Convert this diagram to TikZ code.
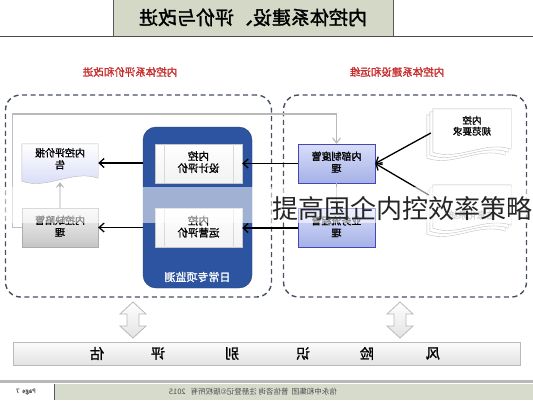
\documentclass[tikz,border=0pt]{standalone}
\usepackage{graphicx}
\usepackage{fontspec}
\setmainfont{Noto Sans CJK SC}[AutoFakeBold=1.6]
\usetikzlibrary{arrows.meta,calc}
\definecolor{titlebg}{RGB}{212,216,199}
\definecolor{footbg}{RGB}{214,219,204}
\definecolor{monblue}{RGB}{45,84,160}
\definecolor{boxblueT}{RGB}{216,222,250}
\definecolor{boxblueB}{RGB}{165,177,230}
\definecolor{docblue}{RGB}{212,216,246}
\definecolor{redlab}{RGB}{200,45,45}
\definecolor{dashc}{RGB}{70,80,98}
\newcommand\mirr[1]{\reflectbox{#1}}
\newcommand\mtwo[2]{\reflectbox{\begin{tabular}{@{}c@{}}#1\\[-1pt]#2\end{tabular}}}
\newcommand\docshape[3]{%
  \path[#2] ($(#1.north west)+(#3)$) -- ($(#1.north east)+(#3)$)
    -- ($(#1.south east)+(0,-4)+(#3)$)
    .. controls ($(#1.south east)+(-26,-13)+(#3)$) and ($(#1.south west)+(26,8)+(#3)$) ..
    ($(#1.south west)+(0,-1)+(#3)$) -- cycle;}
\begin{document}
\begin{tikzpicture}[x=1pt,y=-1pt,
  every node/.style={inner sep=0pt, align=center},
  titlebox/.style={draw=gray!70!black, fill=titlebg, minimum width=280, minimum height=37,
    font=\fontsize{19}{21}\selectfont\bfseries},
  redlabel/.style={text=redlab, font=\fontsize{10.5}{12}\selectfont\bfseries},
  region/.style={draw=dashc, dash pattern=on 5pt off 3.5pt, line width=1.4, rounded corners=15},
  monbox/.style={fill=monblue, draw=monblue!75!black, rounded corners=13,
    minimum width=109, minimum height=161},
  innerbox/.style={draw=gray!45, top color=white, bottom color=gray!10,
    minimum width=87, minimum height=39, font=\fontsize{10.5}{13}\selectfont\bfseries},
  bluebox/.style={draw=gray!55!blue, top color=boxblueT, bottom color=boxblueB,
    minimum width=77, minimum height=39, font=\fontsize{10}{13}\selectfont\bfseries},
  greybox/.style={draw=gray!65, top color=gray!8, bottom color=gray!45,
    minimum width=76, minimum height=39, font=\fontsize{10}{13}\selectfont\bfseries},
  docnode/.style={minimum width=76, minimum height=38, font=\fontsize{10}{13}\selectfont\bfseries},
  rdoc/.style={minimum width=78, minimum height=44, font=\fontsize{9.5}{12}\selectfont\bfseries},
  blkarrow/.style={-{Straight Barb[length=5pt,width=9pt]}, line width=1.3, black},
  greyarrow/.style={-{Straight Barb[length=5pt,width=8pt]}, line width=1.1, gray!55},
  riskchar/.style={font=\fontsize{14}{15}\selectfont\bfseries},
]
\useasboundingbox (0,0) rectangle (533,400);
\fill[white] (0,0) rectangle (533,400);

% title
\node[titlebox] (title) at (253,17.5) {\mirr{内控体系建设、评价与改进}};
\draw[gray!60!black, line width=0.9] (0,36) -- (533,36);

% region labels
\node[redlabel] (ltitle) at (130,72) {\mirr{内控体系评价和改进}};
\node[redlabel] (rtitle) at (397,72) {\mirr{内控体系建设和运维}};

% dashed regions
\node[region, minimum width=266, minimum height=202] (lregion) at (138.5,196) {};
\node[region, minimum width=243, minimum height=202] (rregion) at (405,196) {};

% left column
\node[docnode] (report) at (60,163) {};
\docshape{report}{draw=gray!55, top color=white, bottom color=docblue}{0,0}
\node[font=\fontsize{10}{13}\selectfont\bfseries] (reporttxt) at (60,160) {\mtwo{内控评价报}{告}};
\node[greybox] (defect) at (60,227.5) {\mtwo{内控缺陷管}{理}};

% monitoring box
\node[monbox] (monitor) at (197.5,207.5) {};
\node[font=\fontsize{11}{13}\selectfont\bfseries, text=white] (montxt) at (197.5,277) {\mirr{日常专项监测}};
\node[innerbox] (design) at (198.5,163.5) {\mtwo{内控}{设计评价}};
\node[innerbox] (oper) at (198.5,228) {\mtwo{内控}{运营评价}};
\foreach \n in {design,oper}{
  \draw[gray!30] ($(\n.north west)+(9,0)$) -- ($(\n.south west)+(9,0)$);
  \draw[gray!30] ($(\n.north east)+(-9,0)$) -- ($(\n.south east)+(-9,0)$);
}

% right column
\node[bluebox] (zhidu) at (336.5,163.5) {\mtwo{内部制度管}{理}};
\node[bluebox] (yewu) at (336.5,228) {\mtwo{业务流程管}{理}};
\draw[gray!60, line width=1] (zhidu.south) -- (yewu.north);

\node[rdoc] (guifan) at (472,131) {};
\docshape{guifan}{draw=gray!50, fill=white}{-6,6}
\docshape{guifan}{draw=gray!50, fill=white}{-3,3}
\docshape{guifan}{draw=gray!50, fill=white}{0,0}
\node[font=\fontsize{9.5}{12}\selectfont\bfseries] (guifantxt) at (472,127) {\mtwo{内控}{规范要求}};

\node[rdoc] (xinxi) at (472,207) {};
\docshape{xinxi}{draw=gray!50, fill=white}{-6,6}
\docshape{xinxi}{draw=gray!50, fill=white}{-3,3}
\docshape{xinxi}{draw=gray!50, fill=white}{0,0}
\node[font=\fontsize{9.5}{12}\selectfont\bfseries, text=gray!70] (xinxitxt) at (472,215) {\mirr{信息化系统}};

% connectors
\coordinate (loopA) at (12,114);
\draw[gray!50, line width=1] (defect.west) -| (loopA);
\draw[greyarrow] (loopA) -| (zhidu.north);
\draw[greyarrow] (defect.north) -- (report.south);
\draw[blkarrow] (monitor.west |- report.east) -- (report.east);
\draw[blkarrow] (monitor.west |- defect.east) -- (defect.east);
\draw[blkarrow] (zhidu.west) -- (design.east);
\draw[blkarrow] (yewu.west) -- (oper.east);
\draw[blkarrow] ($(guifan.west)+(-2,2)$) -- (zhidu.east);
\draw[blkarrow] ($(xinxi.west)+(-4,-12)$) -- (zhidu.east);

% translucent band and overlay text
\fill[white, opacity=0.55] (0,187) rectangle (533,223);
\node[font=\fontsize{26}{28}\selectfont, text=black!85] (overlay) at (402.5,209) {提高国企内控效率策略};

% up-down arrows
\foreach \x in {133,400}{
  \draw[gray!55, line width=0.8, top color=white, bottom color=gray!22]
    (\x,302) -- (\x+13,314) -- (\x+6,314) -- (\x+6,326) -- (\x+13,326) -- (\x,338)
    -- (\x-13,326) -- (\x-6,326) -- (\x-6,314) -- (\x-13,314) -- cycle;
}

% risk band
\node[draw=gray!55, top color=gray!3, bottom color=gray!22, minimum width=507, minimum height=23] (risk) at (266.5,353.5) {};
\foreach \c/\x in {估/97,评/158,别/232,识/303,险/367,风/433}{
  \node[riskchar] (ch\x) at (\x,353.5) {\mirr{\c}};
}

% footer
\draw[gray!55, line width=2.5] (0,381.5) -- (533,381.5);
\fill[footbg] (55,384) rectangle (533,400);
\draw[gray!70!black, line width=1] (54.5,384) -- (54.5,400);
\node[font=\fontsize{6}{7}\selectfont\bfseries, text=gray!70!black] (page) at (26,391.5) {\mirr{Page\ \ 7}};
\node[font=\fontsize{7.5}{9}\selectfont, text=gray!60!black] (foot) at (253,391.5) {\mirr{信永中和集团\ \ 普信咨询\ 注册登记©版权所有\ \ \ 2015}};
\end{tikzpicture}
\end{document}
